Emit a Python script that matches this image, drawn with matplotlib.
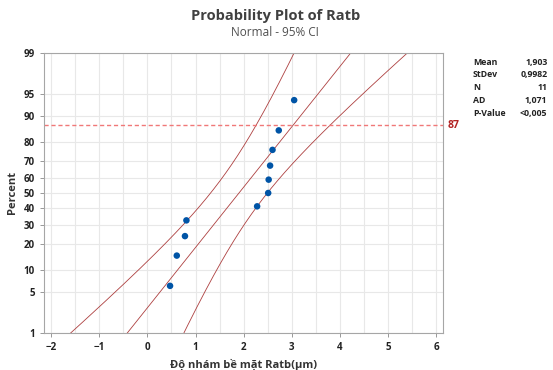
#!/usr/bin/env python3
"""Normal probability plot of Ratb with 95% CI bands (Minitab style)."""

from statistics import NormalDist

import matplotlib
matplotlib.use("Agg")
import matplotlib.pyplot as plt
import numpy as np

plt.rcParams['font.family'] = ['Open Sans', 'DejaVu Sans']

# data
ratb = [0.47, 0.61, 0.78, 0.81, 2.28, 2.51, 2.52, 2.55, 2.60, 2.73, 3.05]
MEAN = 1.903
STDEV = 0.9982
ref_pct = 87

stat_names = ["Mean", "StDev", "N", "AD", "P-Value"]
stat_values = ["1,903", "0,9982", "11", "1,071", "<0,005"]

pct_ticks = [1, 5, 10, 20, 30, 40, 50, 60, 70, 80, 90, 95, 99]
x_ticks = [-2, -1, 0, 1, 2, 3, 4, 5, 6]

BLUE = '#0054a6'
RED = '#ad3f3f'


def main():
    nd = NormalDist()
    zq = lambda p: nd.inv_cdf(p / 100.0)

    x = np.sort(np.array(ratb))
    n = len(x)
    ranks = np.arange(1, n + 1)
    z_pts = np.array([nd.inv_cdf(p) for p in (ranks - 0.3) / (n + 0.4)])

    fig = plt.figure(figsize=(5.53, 3.70), dpi=100)
    ax = fig.add_axes([0.0796, 0.1, 0.722, 0.7568])

    # fitted line and confidence bands
    z = np.linspace(zq(0.5), zq(99.5), 300)
    fit = MEAN + STDEV * z
    se = STDEV * np.sqrt(1.0 / n + z ** 2 / (2.0 * (n - 1)))
    ax.plot(fit, z, color=RED, lw=0.6)
    ax.plot(fit - 1.96 * se, z, color=RED, lw=0.6)
    ax.plot(fit + 1.96 * se, z, color=RED, lw=0.6)

    ax.scatter(x, z_pts, s=22, color=BLUE, zorder=3, edgecolors='none')

    # reference line
    ax.axhline(zq(ref_pct), color='#f07878', lw=1.0, ls=(0, (3, 2)), clip_on=False)
    ax.text(1.012, zq(ref_pct), str(ref_pct), transform=ax.get_yaxis_transform(),
            color='#b22222', fontsize=7.5, fontweight='bold', va='center', ha='left')

    ax.set_xlim(-2.15, 6.15)
    ax.set_ylim(zq(1), zq(99))
    ax.set_xticks(x_ticks)
    ax.set_xticks(np.arange(-2, 6.01, 0.5), minor=True)
    ax.set_yticks([zq(p) for p in pct_ticks])
    ax.set_yticklabels([str(p) for p in pct_ticks])
    ax.tick_params(labelsize=7, width=0.6, length=3, color='#888888', labelcolor='#222222')
    ax.tick_params(which='minor', length=0)
    for lab in ax.get_xticklabels() + ax.get_yticklabels():
        lab.set_fontweight('bold')

    ax.grid(True, which='both', color='#e8e8e8', lw=0.8)
    ax.set_axisbelow(True)
    for sp in ax.spines.values():
        sp.set_color('#a6a6a6')
        sp.set_linewidth(0.8)

    ax.set_xlabel('Độ nhám bề mặt Ratb(µm)', fontsize=8, fontweight='bold', color='#333333', labelpad=4)
    ax.set_ylabel('Percent', fontsize=8, fontweight='bold', color='#333333', labelpad=4)

    fig.text(0.498, 0.958, 'Probability Plot of Ratb', ha='center', va='center',
             fontsize=10.5, fontweight='bold', color='#404040')
    fig.text(0.498, 0.913, 'Normal - 95% CI', ha='center', va='center',
             fontsize=8.5, color='#505050')

    # statistics table
    for i, (name, val) in enumerate(zip(stat_names, stat_values)):
        yy = 0.832 - i * 0.0345
        fig.text(0.855, yy, name, fontsize=6.3, fontweight='bold', va='center', ha='left', color='#222222')
        fig.text(0.99, yy, val, fontsize=6.3, fontweight='bold', va='center', ha='right', color='#222222')

    fig.savefig('out.png', dpi=100)


if __name__ == "__main__":
    main()
